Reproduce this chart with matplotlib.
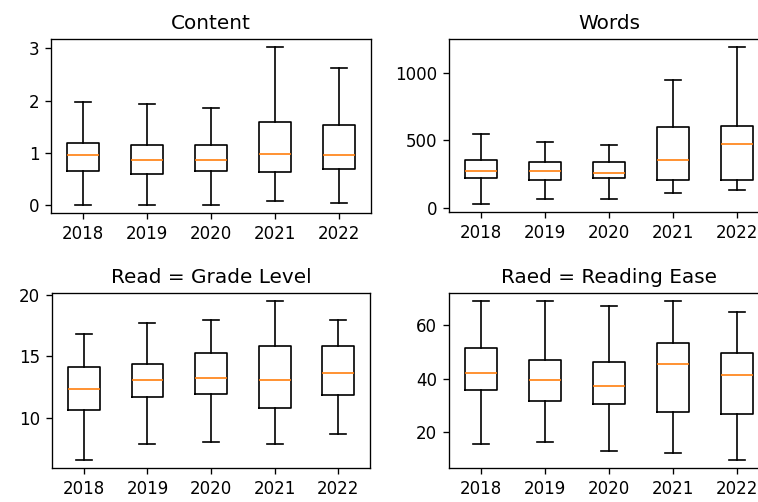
import matplotlib
matplotlib.use("Agg")
import matplotlib.pyplot as plt

years = ["2018", "2019", "2020", "2021", "2022"]

# whislo, q1, med, q3, whishi per year
content_lo = [0.0, 0.0, 0.0, 0.07, 0.04]
content_q1 = [0.66, 0.60, 0.66, 0.63, 0.70]
content_med = [0.95, 0.87, 0.87, 0.98, 0.95]
content_q3 = [1.19, 1.155, 1.155, 1.60, 1.53]
content_hi = [1.98, 1.93, 1.86, 3.03, 2.63]

words_lo = [27, 66, 66, 108, 135]
words_q1 = [217, 202, 217, 202, 202]
words_med = [271, 271, 259, 352, 473]
words_q3 = [352, 340, 340, 596, 608]
words_hi = [542, 485, 461, 948, 1190]

grade_lo = [6.54, 7.88, 8.02, 7.88, 8.65]
grade_q1 = [10.6, 11.68, 11.95, 10.77, 11.81]
grade_med = [12.28, 13.02, 13.19, 13.02, 13.63]
grade_q3 = [14.07, 14.34, 15.27, 15.85, 15.85]
grade_hi = [16.76, 17.72, 17.97, 19.48, 17.97]

ease_lo = [15.85, 16.5, 13.1, 12.45, 9.7]
ease_q1 = [35.85, 31.7, 30.4, 27.7, 26.9]
ease_med = [42.0, 39.4, 37.2, 45.5, 41.4]
ease_q3 = [51.57, 47.0, 46.3, 53.1, 49.7]
ease_hi = [68.9, 68.9, 66.9, 68.9, 64.9]

panels = [
    ("Content", content_lo, content_q1, content_med, content_q3, content_hi),
    ("Words", words_lo, words_q1, words_med, words_q3, words_hi),
    ("Read = Grade Level", grade_lo, grade_q1, grade_med, grade_q3, grade_hi),
    ("Raed = Reading Ease", ease_lo, ease_q1, ease_med, ease_q3, ease_hi),
]

W, H = 758, 502
dpi = 120
fig = plt.figure(figsize=(W / dpi, H / dpi), dpi=dpi)

# axes rectangles in pixels: left, top, right, bottom
rects = [
    (51, 39, 371, 213),
    (449, 39, 769, 212),
    (52, 293, 370, 468),
    (449, 293, 769, 468),
]

for (title, lo, q1, med, q3, hi), (l, t, r, b) in zip(panels, rects):
    ax = fig.add_axes([l / W, 1 - b / H, (r - l) / W, (b - t) / H])
    stats = []
    for i, y in enumerate(years):
        stats.append(dict(label=y, whislo=lo[i], q1=q1[i], med=med[i],
                          q3=q3[i], whishi=hi[i], fliers=[]))
    ax.bxp(stats, showfliers=False)
    ax.set_title(title)

fig.savefig("out.png", dpi=dpi)
